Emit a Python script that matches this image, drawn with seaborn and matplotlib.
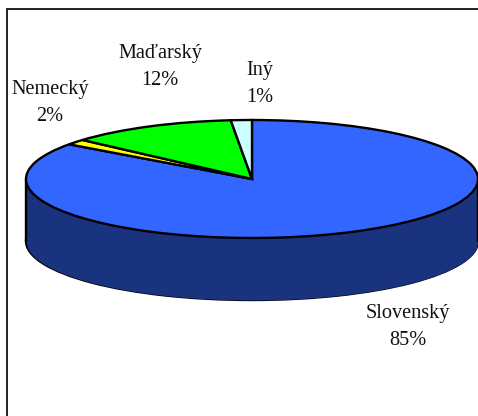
import numpy as np
import seaborn as sns
import matplotlib.pyplot as plt
from matplotlib.patches import Rectangle

# --- data ---
categories = ["Slovenský", "Nemecký", "Maďarský", "Iný"]
values     = [85.0, 1.5, 12.0, 1.5]
pct_labels = ["85%", "2%", "12%", "1%"]
top_colors = ["#3366FF", "#FFFF00", "#00FF00", "#CCFFFF"]
wall_color = "#19337F"

# --- layout in pixels of the 478x416 picture ---
W, H = 478, 416
CX, CY = 252, 179
RX, RY = 226, 59
DEPTH = 62
label_pos = [(408, 327), (50, 103), (160, 67), (260, 84)]

sns.set_theme(style="white")
plt.rcParams['font.family'] = ['Liberation Serif', 'DejaVu Sans']

fig = plt.figure(figsize=(W / 100, H / 100), dpi=100, facecolor="white")
ax = fig.add_axes([0, 0, 1, 1])

# pie coords: unit circle, squashed by the axis limits
ax.pie([1], colors=[wall_color], startangle=90, radius=1, center=(0, -DEPTH / RY),
       wedgeprops=dict(edgecolor="black", linewidth=1.7), frame=True)
t = np.linspace(-1, 1, 300)
ax.fill_between(t, -np.sqrt(1 - t ** 2), -np.sqrt(1 - t ** 2) - DEPTH / RY,
                color=wall_color, linewidth=0, zorder=1.5)
for side in (-1, 1):
    ax.plot([side, side], [0, -DEPTH / RY], color="black", lw=1.7, zorder=1.6)
ax.pie(values, colors=top_colors, startangle=90, counterclock=False, radius=1,
       wedgeprops=dict(edgecolor="black", linewidth=1.7, zorder=2), frame=True)

ax.set_aspect("auto")
ax.set_xlim((0 - CX) / RX, (W - CX) / RX)
ax.set_ylim((CY - H) / RY, (CY - 0) / RY)
ax.set_xticks([])
ax.set_yticks([])
for sp in ax.spines.values():
    sp.set_visible(False)

# outer chart frame
ax.add_patch(Rectangle((6.5 / W, -0.1), 2, 1.1 - 8.5 / H, transform=ax.transAxes,
                       fill=False, edgecolor="#111111", lw=1.3, zorder=5, clip_on=True))

for cat, pct, (px, py) in zip(categories, pct_labels, label_pos):
    ax.text((px - CX) / RX, (CY - py) / RY, f"{cat}\n{pct}", ha="center", va="center",
            fontsize=14.6, color="#111111", linespacing=1.62, zorder=6)

fig.savefig("out.png", dpi=100)
